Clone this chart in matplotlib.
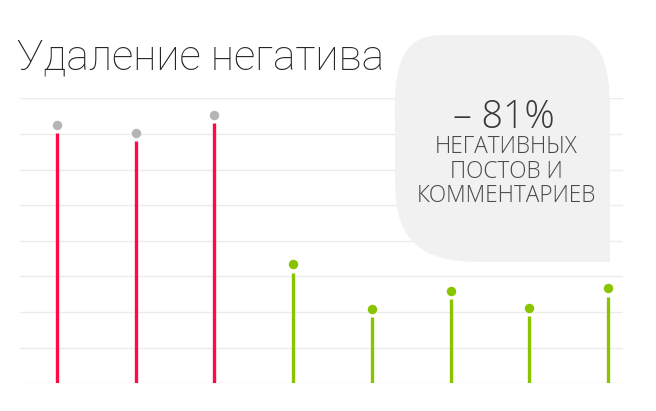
import matplotlib
matplotlib.use('Agg')
import matplotlib.pyplot as plt
from matplotlib.path import Path
from matplotlib.patches import PathPatch
import matplotlib.transforms as mtransforms

# ---- data ----
periods = [0, 1, 2, 3, 4, 5, 6, 7]
values = [7.02, 6.80, 7.30, 3.11, 1.85, 2.36, 1.89, 2.43]
stem_colors = ['#ff0a45'] * 3 + ['#88c500'] * 5
dot_colors = ['#b5b5b5'] * 3 + ['#88c500'] * 5
grid_levels = [0, 1, 2, 3, 4, 5, 6, 7, 8]
title = 'Удаление негатива'
big_label = '– 81%'
sub_lines = ['НЕГАТИВНЫХ', 'ПОСТОВ И', 'КОММЕНТАРИЕВ']

W, H, DPI = 656, 411, 100
fig = plt.figure(figsize=(W / DPI, H / DPI), dpi=DPI)
fig.patch.set_facecolor('white')

def fx(x):
    return x / W

def fy(y):
    return 1 - y / H

ax = fig.add_axes([fx(20), fy(383.3), fx(623) - fx(20), fy(98.3) - fy(383.3)])
ax.set_xlim(-0.47, 7.19)
ax.set_ylim(0, 8)
ax.axis('off')

for g in grid_levels:
    ax.axhline(g, color='#ececec', lw=1.0, zorder=1)

for p, v, c in zip(periods, values, stem_colors):
    ax.vlines(p, 0, v, color=c, lw=2.4, zorder=3)

offset = mtransforms.ScaledTranslation(0, 8.3 / DPI, fig.dpi_scale_trans)
for p, v, c in zip(periods, values, dot_colors):
    ax.plot([p], [v], 'o', color=c, ms=6.8, mec='none', zorder=4,
            transform=ax.transData + offset, clip_on=False)

# speech bubble (decoration)
pts = [
    (443, 35),
    (567, 35),
    (600, 35), (610, 60), (610, 113),
    (610, 262),
    (480, 262),
    (420, 262), (396, 240), (395, 185),
    (395, 120),
    (393, 60), (405, 35), (443, 35),
]
codes = [Path.MOVETO, Path.LINETO,
         Path.CURVE4, Path.CURVE4, Path.CURVE4,
         Path.LINETO, Path.LINETO,
         Path.CURVE4, Path.CURVE4, Path.CURVE4,
         Path.LINETO,
         Path.CURVE4, Path.CURVE4, Path.CURVE4]
path = Path([(fx(x), fy(y)) for x, y in pts], codes)
fig.patches.append(PathPatch(path, facecolor='#f1f1f1', edgecolor='none',
                             transform=fig.transFigure, zorder=1))

fig.text(fx(17), fy(69), title, fontsize=30.5, fontweight='light',
         family=['Roboto', 'DejaVu Sans'], color='#262626', va='baseline', ha='left')
fig.text(fx(504), fy(128.3), big_label, fontsize=27, fontweight='light',
         family=['Open Sans', 'DejaVu Sans'], color='#3a3a3a', va='baseline', ha='center')
for line, yb in zip(sub_lines, [153.3, 178.3, 201.7]):
    fig.text(fx(506), fy(yb), line, fontsize=16.3, fontweight='light',
             family=['Open Sans', 'DejaVu Sans'], color='#4a4a4a',
             va='baseline', ha='center')

fig.savefig('out.png', dpi=DPI, facecolor='white')
